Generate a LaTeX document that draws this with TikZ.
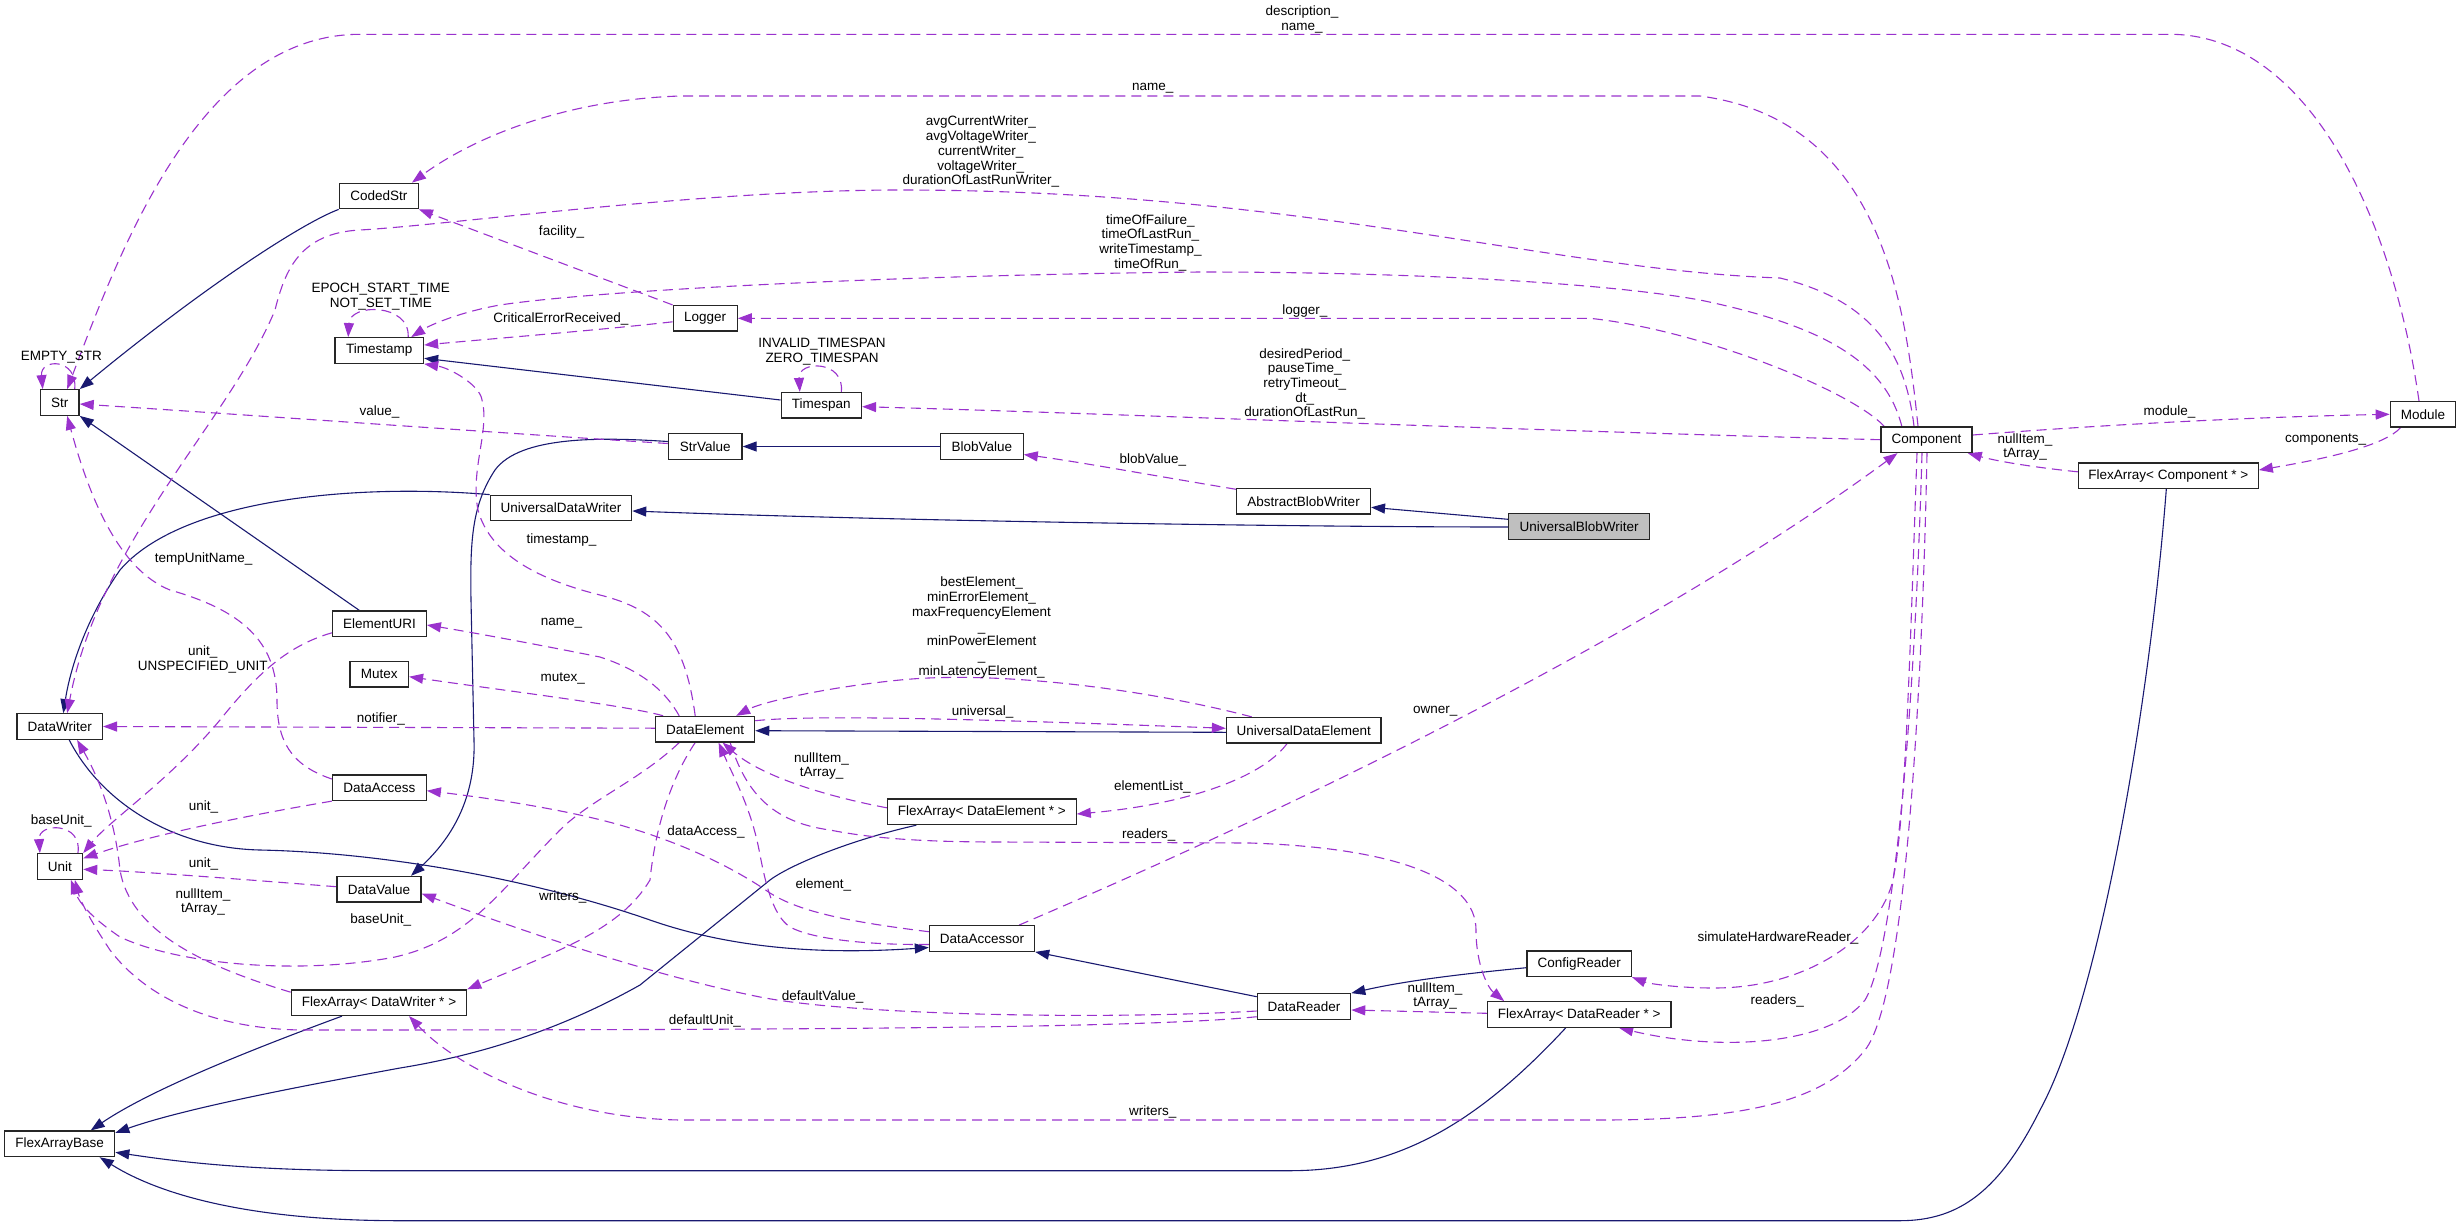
\documentclass[tikz,border=0pt]{standalone}
\usepackage{fontspec}
\setmainfont{Liberation Sans}
\usetikzlibrary{arrows.meta}
\definecolor{edgeblue}{HTML}{191970}
\definecolor{edgepurple}{HTML}{9A32CD}
\definecolor{boxgray}{HTML}{BFBFBF}
\pgfdeclarelayer{bg}
\pgfsetlayers{bg,main}
\begin{document}
\begin{tikzpicture}[x=1pt,y=-1pt,
  every node/.style={font=\fontsize{13.5}{14.7}\selectfont},
  cls/.style={draw=black!85, line width=1.3pt, fill=white, minimum height=25.5pt, inner sep=0pt},
  focus/.style={cls, fill=boxgray},
  inh/.style={draw=edgeblue, line width=1.1pt, -{Triangle[length=14pt,width=10pt]}},
  use/.style={draw=edgepurple, line width=1.1pt, dash pattern=on 10pt off 6pt, -{Triangle[length=14pt,width=10pt]}},
  lbl/.style={align=center, inner sep=0pt}]
\useasboundingbox (0,0) rectangle (2461,1227);

% ---------------- nodes ----------------
\node[cls, minimum width=38.8pt]  (Str)          at (59.7,402.5)   {Str};
\node[cls, minimum width=79pt]    (CodedStr)     at (378.8,196)    {CodedStr};
\node[cls, minimum width=88.6pt]  (Timestamp)    at (379.2,350.5)  {Timestamp};
\node[cls, minimum width=64pt]    (Logger)       at (705.2,318.3)  {Logger};
\node[cls, minimum width=80.3pt]  (Timespan)     at (821.3,405.3)  {Timespan};
\node[cls, minimum width=73.6pt]  (StrValue)     at (705.2,446.5)  {StrValue};
\node[cls, minimum width=82.7pt]  (BlobValue)    at (981.8,446.5)  {BlobValue};
\node[cls, minimum width=141.3pt] (UDW)          at (561,508)      {UniversalDataWriter};
\node[cls, minimum width=133.6pt] (ABW)          at (1303.6,501.3) {AbstractBlobWriter};
\node[focus, minimum width=140.8pt] (UBW)        at (1579.2,526.5) {UniversalBlobWriter};
\node[cls, minimum width=91.2pt]  (Component)    at (1926.5,439.7) {Component};
\node[cls, minimum width=65.4pt]  (Module)       at (2423,414.3)   {Module};
\node[cls, minimum width=179.8pt] (FAComp)       at (2168.3,475.8) {FlexArray< Component * >};
\node[cls, minimum width=93.7pt]  (ElementURI)   at (379.4,623.8)  {ElementURI};
\node[cls, minimum width=58.5pt]  (Mutex)        at (379.2,674.3)  {Mutex};
\node[cls, minimum width=85.4pt]  (DataWriter)   at (59.7,726.5)   {DataWriter};
\node[cls, minimum width=98.8pt]  (DataElement)  at (705.2,729.2)  {DataElement};
\node[cls, minimum width=154.6pt] (UDE)          at (1303.8,730.3) {UniversalDataElement};
\node[cls, minimum width=93.7pt]  (DataAccess)   at (379.4,787.7)  {DataAccess};
\node[cls, minimum width=188.7pt] (FADE)         at (981.8,811.8)  {FlexArray< DataElement * >};
\node[cls, minimum width=45.4pt]  (Unit)         at (59.9,866.5)   {Unit};
\node[cls, minimum width=84.2pt]  (DataValue)    at (379,889.2)    {DataValue};
\node[cls, minimum width=105.1pt] (DataAccessor) at (982,938.5)    {DataAccessor};
\node[cls, minimum width=104.4pt] (ConfigReader) at (1579.2,963.8) {ConfigReader};
\node[cls, minimum width=93.3pt]  (DataReader)   at (1304,1006.5)  {DataReader};
\node[cls, minimum width=183.4pt] (FADR)         at (1579.2,1014.5) {FlexArray< DataReader * >};
\node[cls, minimum width=175.2pt] (FADW)         at (379,1002.7)   {FlexArray< DataWriter * >};
\node[cls, minimum width=110pt]   (FlexArrayBase) at (59.7,1143.8) {FlexArrayBase};

\begin{pgfonlayer}{bg}
% ---------------- inheritance (blue) ----------------
\draw[inh] (CodedStr.south west) .. controls (300,224) and (200,290) .. (Str.north east);
\draw[inh] ([xshift=-20]ElementURI.north) -- (Str.south east);
\draw[inh] ([yshift=5.3]Timespan.west) -- ([yshift=-7.8]Timestamp.east);
\draw[inh] (BlobValue.west) -- (StrValue.east);
\draw[inh] ([yshift=5]StrValue.west) .. controls (600,437) and (520,436) .. (495,470)
   .. controls (472,505) and (470,540) .. (471,600) -- (474,740)
   .. controls (476,800) and (450,840) .. ([xshift=32]DataValue.north);
\draw[inh] (UDW.north west) .. controls (350,483) and (180,500) .. (120,570)
   .. controls (85,620) and (70,670) .. ([xshift=3.6]DataWriter.north);
\draw[inh] ([yshift=-0.5]UBW.west) .. controls (1300,527) and (900,521) .. ([yshift=-3]UDW.east);
\draw[inh] ([yshift=7.2]UBW.west) -- ([yshift=-6]ABW.east);
\draw[inh] ([xshift=9.5]DataWriter.south) .. controls (100,800) and (170,848) .. (260,850)
   .. controls (400,853) and (550,885) .. (650,920)
   .. controls (730,948) and (820,955) .. ([yshift=-9]DataAccessor.west);
\draw[inh] ([yshift=-2]UDE.west) -- ([yshift=-1.5]DataElement.east);
\draw[inh] ([yshift=9.8]DataReader.west) -- (DataAccessor.south east);
\draw[inh] ([yshift=-3.9]ConfigReader.west) .. controls (1450,975) and (1400,982) .. (DataReader.north east);
\draw[inh] ([xshift=-65.5]FADE.south) .. controls (850,840) and (790,865) .. (770,880) -- (640,985)
   .. controls (560,1030) and (480,1055) .. (400,1068)
   .. controls (280,1090) and (180,1110) .. ([yshift=11]FlexArrayBase.east);
\draw[inh] ([xshift=-37]FADW.south) .. controls (250,1050) and (150,1090) .. ([xshift=31]FlexArrayBase.north);
\draw[inh] ([xshift=-13.5]FADR.south) .. controls (1480,1120) and (1400,1170.7) .. (1290,1170.7) -- (380,1170.7)
   .. controls (250,1170.7) and (180,1162) .. ([yshift=-8.5]FlexArrayBase.east);
\draw[inh] ([xshift=-2]FAComp.south) .. controls (2150,700) and (2100,1000) .. (2040,1110)
   .. controls (2000,1190) and (1960,1220.7) .. (1900,1220.7) -- (400,1220.7)
   .. controls (250,1220.7) and (160,1195) .. ([xshift=40]FlexArrayBase.south);

% ---------------- usage (purple dashed) ----------------
\draw[use] ([xshift=-4]Module.north) .. controls (2390,200) and (2300,34.3) .. (2170,34.3) -- (360,34.3)
   .. controls (200,34.3) and (120,250) .. ([xshift=7.5]Str.north);
\draw[use] ([xshift=-8.5]Component.north) .. controls (1905,300) and (1880,120) .. (1700,96) -- (680,96)
   .. controls (560,100) and (470,140) .. ([xshift=-7]CodedStr.north east);
\draw[use] ([xshift=-12.5]Component.north) .. controls (1905,350) and (1870,300) .. (1780,278)
   .. controls (1550,270) and (1300,190) .. (900,190)
   .. controls (700,190) and (450,225) .. (360,230)
   .. controls (300,233) and (285,270) .. (275,310)
   .. controls (230,420) and (100,540) .. ([xshift=7.5]DataWriter.north);
\draw[use] ([xshift=-24.7]Component.north) .. controls (1885,360) and (1820,325) .. (1700,300)
   .. controls (1600,282) and (1400,272) .. (1200,272)
   .. controls (900,275) and (600,290) .. (500,305)
   .. controls (460,312) and (430,325) .. ([xshift=32]Timestamp.north);
\draw[use] ([xshift=4]Component.north west) .. controls (1850,390) and (1700,330) .. (1590,318.3) -- (Logger.east);
\draw[use] (Component.west) .. controls (1500,430) and (1100,413) .. ([yshift=-1.4]Timespan.east);
\draw[use] ([yshift=4.7]Component.east) .. controls (2100,425) and (2250,417) .. (Module.west);
\draw[use] ([xshift=-22.5]Module.south) .. controls (2385,445) and (2330,458) .. ([yshift=5.8]FAComp.east);
\draw[use] ([yshift=4]FAComp.west) .. controls (2040,468) and (2000,462) .. ([xshift=-5]Component.south east);
\draw[use] ([yshift=12]ABW.west) .. controls (1150,475) and (1080,462) .. ([yshift=-8]BlobValue.east);
\draw[use] ([xshift=37]DataAccessor.north) .. controls (1300,805) and (1650,635) .. ([xshift=-29]Component.south);
\draw[use] ([xshift=-52]UDE.north) .. controls (1150,690) and (1000,670) .. (900,680)
   .. controls (820,688) and (760,703) .. ([xshift=31]DataElement.north);
\draw[use] ([yshift=8.5]DataElement.east) .. controls (820,714) and (1000,720) .. ([yshift=2]UDE.west);
\draw[use] ([xshift=-16.8]UDE.south) .. controls (1260,780) and (1180,805) .. ([yshift=-2.2]FADE.east);
\draw[use] ([yshift=4]FADE.west) .. controls (820,795) and (760,775) .. ([xshift=17.4]DataElement.south);
\draw[use] ([yshift=1]DataElement.west) -- (DataWriter.east);
\draw[use] ([xshift=8]DataElement.north west) .. controls (630,706) and (500,690) .. ([yshift=-2.4]Mutex.east);
\draw[use] ([xshift=-26]DataElement.north) .. controls (665,690) and (640,670) .. (600,657)
   .. controls (540,645) and (470,632) .. ([yshift=-1.2]ElementURI.east);
\draw[use] ([xshift=-10]DataElement.north) .. controls (685,640) and (660,610) .. (600,595)
   .. controls (540,580) and (490,555) .. (478,510)
   .. controls (470,470) and (490,430) .. (482,400)
   .. controls (480,385) and (450,368) .. (Timestamp.south east);
\draw[use] ([yshift=8.7]DataAccess.west) .. controls (290,765) and (277,740) .. (277,700)
   .. controls (277,640) and (240,610) .. (170,590)
   .. controls (120,570) and (90,500) .. ([xshift=7.5]Str.south);
\draw[use] ([yshift=3]StrValue.west) .. controls (500,433) and (250,415) .. ([yshift=-1.5]Str.east);
\draw[use] (Logger.north west) -- (CodedStr.south east);
\draw[use] ([yshift=-3.5]Logger.west) .. controls (600,330) and (500,338) .. ([yshift=5.5]Timestamp.east);
% self loops
\draw[use] ([xshift=29]Timestamp.north) .. controls (410,303) and (350,303) .. ([xshift=-31]Timestamp.north);
\draw[use] ([xshift=20]Timespan.north) .. controls (845,360) and (798,360) .. ([xshift=-21.5]Timespan.north);
\draw[use] ([xshift=15]Str.north) .. controls (78,358) and (40,358) .. ([xshift=-17]Str.north);
\draw[use] ([xshift=18]Unit.north) .. controls (83,822) and (38,822) .. ([xshift=-20]Unit.north);
% to Unit
\draw[use] ([yshift=-9]ElementURI.west) .. controls (290,645) and (260,670) .. (220,720)
   .. controls (170,780) and (110,820) .. (Unit.north east);
\draw[use] (DataAccess.south west) .. controls (250,815) and (150,835) .. ([yshift=8.2]Unit.east);
\draw[use] ([yshift=2.5]DataValue.west) .. controls (250,880) and (150,872) .. ([yshift=-2.8]Unit.east);
\draw[use] ([xshift=-26]DataElement.south) .. controls (640,780) and (590,800) .. (560,830)
   .. controls (500,890) and (470,940) .. (395,957)
   .. controls (300,975) and (180,965) .. (120,937)
   .. controls (95,920) and (80,905) .. ([xshift=11]Unit.south);
\draw[use] ([yshift=-10.2]DataReader.west) .. controls (1150,1028) and (800,1030) .. (300,1030)
   .. controls (200,1028) and (140,990) .. (110,950)
   .. controls (90,920) and (80,900) .. ([xshift=15]Unit.south);
% FlexArray<DataWriter*>
\draw[use] ([yshift=10.5]FADW.west) .. controls (200,965) and (130,930) .. (120,870)
   .. controls (115,820) and (100,780) .. ([xshift=17.4]DataWriter.south);
\draw[use] ([xshift=-10]DataElement.south) .. controls (670,780) and (655,830) .. (650,880)
   .. controls (620,930) and (560,950) .. (FADW.north east);
% DataAccessor
\draw[use] ([yshift=6.8]DataAccessor.west) .. controls (850,922) and (800,912) .. (770,893)
   .. controls (740,872) and (690,845) .. (620,825)
   .. controls (560,808) and (480,797) .. ([yshift=-3]DataAccess.east);
\draw[use] ([yshift=-6]DataAccessor.west) .. controls (860,945) and (810,938) .. (790,927)
   .. controls (772,915) and (765,880) .. (760,855)
   .. controls (752,810) and (735,780) .. ([xshift=13.4]DataElement.south);
% readers
\draw[use] ([xshift=25]DataElement.south) .. controls (745,790) and (770,822) .. (830,830)
   .. controls (870,838) and (920,842) .. (1000,842) -- (1250,843)
   .. controls (1400,848) and (1476,880) .. (1476,930)
   .. controls (1476,965) and (1488,988) .. ([xshift=-75]FADR.north);
\draw[use] ([yshift=1.2]FADR.west) -- ([yshift=-3.5]DataReader.east);
\draw[use] ([yshift=-4.5]DataReader.west) .. controls (1100,1020) and (850,1015) .. (760,997)
   .. controls (650,975) and (520,930) .. ([yshift=-4.5]DataValue.east);
% from Component downwards
\draw[use] ([xshift=-9.5]Component.south) .. controls (1910,650) and (1905,850) .. (1890,890)
   .. controls (1870,945) and (1800,988) .. (1714,988)
   .. controls (1680,988) and (1650,984) .. (ConfigReader.south east);
\draw[use] ([xshift=-4.5]Component.south) .. controls (1915,700) and (1895,950) .. (1865,1000)
   .. controls (1830,1045) and (1720,1052) .. ([xshift=40]FADR.south);
\draw[use] ([xshift=0.5]Component.south) .. controls (1922,700) and (1905,1000) .. (1865,1050)
   .. controls (1825,1100) and (1750,1120) .. (1600,1120) -- (680,1120)
   .. controls (560,1118) and (460,1070) .. ([xshift=30]FADW.south);
\end{pgfonlayer}

% ---------------- labels ----------------
\node[lbl] (l1)  at (1302,19.2)   {description\_\\name\_};
\node[lbl] (l2)  at (1152.8,88.3) {name\_};
\node[lbl] (l3)  at (980.8,151.8) {avgCurrentWriter\_\\avgVoltageWriter\_\\currentWriter\_\\voltageWriter\_\\durationOfLastRunWriter\_};
\node[lbl] (l4)  at (1150.4,242.7) {timeOfFailure\_\\timeOfLastRun\_\\writeTimestamp\_\\timeOfRun\_};
\node[lbl] (l5)  at (1304.8,310.7) {logger\_};
\node[lbl] (l6)  at (1304.8,383.9) {desiredPeriod\_\\pauseTime\_\\retryTimeout\_\\dt\_\\durationOfLastRun\_};
\node[lbl] (l7)  at (2169.5,411.7) {module\_};
\node[lbl] (l8)  at (2325.7,440)  {components\_};
\node[lbl] (l9)  at (2025,447)    {nullItem\_\\tArray\_};
\node[lbl] (l10) at (1152.8,460)  {blobValue\_};
\node[lbl] (l11) at (1435.3,710.7) {owner\_};
\node[lbl] (l12) at (981.6,627.5) {bestElement\_\\minErrorElement\_\\maxFrequencyElement\\\_\\minPowerElement\hspace*{28pt}\\\_\\minLatencyElement\_};
\node[lbl] (l13) at (982.7,711.7) {universal\_};
\node[lbl] (l14) at (1152.4,786.7) {elementList\_};
\node[lbl] (l15) at (821.5,766)   {nullItem\_\\tArray\_};
\node[lbl] (l16) at (380.8,719.3) {notifier\_};
\node[lbl] (l17) at (562.7,678.7) {mutex\_};
\node[lbl] (l18) at (561.5,622.7) {name\_};
\node[lbl] (l19) at (561.5,540)   {timestamp\_};
\node[lbl] (l20) at (203.6,559)   {tempUnitName\_};
\node[lbl] (l21) at (379.6,411.7) {value\_};
\node[lbl] (l22) at (561.5,231.7) {facility\_};
\node[lbl] (l23) at (560.8,319)   {CriticalErrorReceived\_};
\node[lbl] (l24) at (380.8,296.7) {EPOCH\_START\_TIME\\NOT\_SET\_TIME};
\node[lbl] (l25) at (822,351.8)   {INVALID\_TIMESPAN\\ZERO\_TIMESPAN};
\node[lbl] (l26) at (61.3,356.7)  {EMPTY\_STR};
\node[lbl] (l27) at (61.3,821)    {baseUnit\_};
\node[lbl] (l28) at (202.8,659.3) {unit\_\\UNSPECIFIED\_UNIT};
\node[lbl] (l29) at (203.6,807.3) {unit\_};
\node[lbl] (l30) at (203.6,864.3) {unit\_};
\node[lbl] (l31) at (380.8,920)   {baseUnit\_};
\node[lbl] (l32) at (704.8,1020.7) {defaultUnit\_};
\node[lbl] (l33) at (203,902)     {nullItem\_\\tArray\_};
\node[lbl] (l34) at (562.7,897.3) {writers\_};
\node[lbl] (l35) at (706,831.7)   {dataAccess\_};
\node[lbl] (l36) at (823.4,884.7) {element\_};
\node[lbl] (l37) at (1148.8,835)  {readers\_};
\node[lbl] (l38) at (1435,996)    {nullItem\_\\tArray\_};
\node[lbl] (l39) at (822.6,996.7) {defaultValue\_};
\node[lbl] (l40) at (1778,938.3)  {simulateHardwareReader\_};
\node[lbl] (l41) at (1777.3,1001) {readers\_};
\node[lbl] (l42) at (1152.8,1111.7) {writers\_};
\end{tikzpicture}
\end{document}
